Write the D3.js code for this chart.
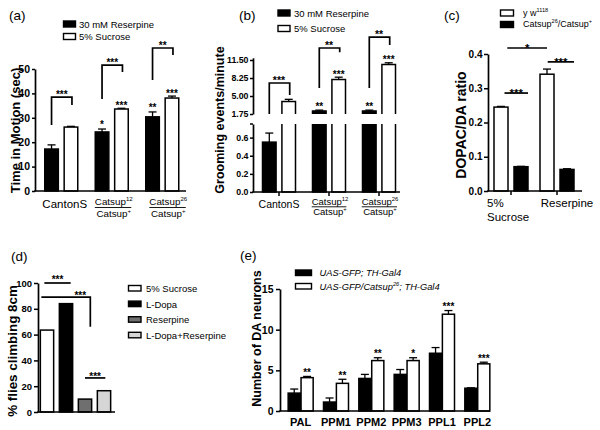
<!DOCTYPE html>
<html><head><meta charset="utf-8">
<script src="https://cdn.jsdelivr.net/npm/d3@7/dist/d3.min.js"></script>
<style>
body{margin:0;background:#fff;}
svg{font-family:"Liberation Sans",Arial,sans-serif;display:block;}
</style></head><body>
<svg id="chart" width="600" height="430"></svg>
<script>
// ---------------- data ----------------
// (a) Time in motion
const aGroups = ["CantonS", "Catsup12", "Catsup26"];
const aReserpine = [17.2, 24.2, 30.4];
const aReserpineErr = [1.7, 1.2, 2.0];
const aSucrose = [26.2, 33.6, 38.1];
const aSucroseErr = [0.3, 0.3, 0.8];
const aTicks = [0, 10, 20, 30, 40, 50];
const aBarStars = [["", ""], ["*", "***"], ["**", "***"]];
const aBracketStars = ["***", "***", "**"];
const aBracketTop = [38.5, 51.6, 58.6];
const aBracketLeft = [27, 37.7, 45.5];
const aBracketRight = [35.2, 48.8, 55.7];

// (b) Grooming events
const bGroups = ["CantonS", "Catsup12", "Catsup26"];
const bReserpine = [0.55, 2.3, 2.3];
const bReserpineErr = [0.1, 0.15, 0.15];
const bSucrose = [4.0, 8.0, 10.7];
const bSucroseErr = [0.4, 0.4, 0.3];
const bUpperTicks = [1.75, 5.00, 8.25, 11.50];
const bLowerTicks = [0, 0.2, 0.4, 0.6];
const bBarStars = [["", ""], ["**", "***"], ["**", "***"]];
const bBracketStars = ["***", "**", "**"];
const bBracketTop = [7.35, 13.67, 15.65];
const bBracketLeft = [1.75, 6.44, 6.44];
const bBracketRight = [5.18, 12.9, 14.2];

// (c) DOPAC/DA ratio
const cGroups = ["5% Sucrose", "Reserpine"];
const cYw = [0.245, 0.341];
const cYwErr = [0.002, 0.015];
const cCatsup = [0.071, 0.063];
const cCatsupErr = [0.001, 0.002];
const cTicks = [0, 0.1, 0.2, 0.3, 0.4];
const cSigLevels = [0.286, 0.4175, 0.377];
const cSigStars = ["***", "*", "***"];

// (d) climbing
const dGroups = ["5% Sucrose", "L-Dopa", "Reserpine", "L-Dopa+Reserpine"];
const dValues = [63.5, 84, 10, 16.5];
const dTicks = [0, 20, 40, 60, 80, 100];
const dSigLevels = [100, 89.1, 26.4];
const dSigLegEnd = 66;
const dSigStars = ["***", "***", "***"];

// (e) DA neurons
const eGroups = ["PAL", "PPM1", "PPM2", "PPM3", "PPL1", "PPL2"];
const eControl = [2.2, 1.1, 4.0, 4.5, 7.1, 2.8];
const eControlErr = [0.5, 0.5, 0.5, 0.6, 0.7, 0.05];
const eCatsup = [4.1, 3.4, 6.2, 6.2, 11.9, 5.8];
const eCatsupErr = [0.15, 0.5, 0.35, 0.35, 0.45, 0.2];
const eStars = ["**", "**", "**", "*", "***", "***"];
const eTicks = [0, 5, 10, 15];

// ---------------- helpers ----------------
const svg = d3.select("#chart");
const SW = 1.5;
const dFill = ["#ffffff", "#000000", "#6f6f6f", "#d6d6d6"];

function yAxis(g, scale, x, ticks, fmt, size, tick, pad) {
  const ax = g.append("g").attr("transform", `translate(${x},0)`)
    .call(d3.axisLeft(scale).tickValues(ticks).tickFormat(fmt).tickSize(tick).tickSizeOuter(0));
  ax.select(".domain").attr("stroke-width", 1.7);
  ax.selectAll(".tick line").attr("stroke-width", 1.5);
  ax.selectAll(".tick text").attr("font-size", size).attr("font-weight", "bold")
    .attr("font-family", '"Liberation Sans", Arial, sans-serif').attr("x", -pad).attr("fill", "#000");
  return ax;
}
function hLine(g, x1, x2, y, w) {
  g.append("line").attr("x1", x1).attr("x2", x2).attr("y1", y).attr("y2", y)
    .attr("stroke", "#000").attr("stroke-width", w || 1.7);
}
function bar(g, x, w, yTop, yBot, fill) {
  g.append("rect").attr("x", x).attr("y", yTop).attr("width", w).attr("height", Math.max(0, yBot - yTop))
    .attr("fill", fill).attr("stroke", "#000").attr("stroke-width", SW);
}
function err(g, cx, yVal, yTop, cap) {
  g.append("line").attr("x1", cx).attr("x2", cx).attr("y1", yVal).attr("y2", yTop)
    .attr("stroke", "#000").attr("stroke-width", 1.3);
  g.append("line").attr("x1", cx - cap / 2).attr("x2", cx + cap / 2).attr("y1", yTop).attr("y2", yTop)
    .attr("stroke", "#000").attr("stroke-width", 1.3);
}
function stars(g, x, yc, txt, size) {
  if (!txt) return;
  g.append("text").attr("x", x).attr("y", yc + 0.6 * size).attr("text-anchor", "middle")
    .attr("font-size", size).attr("font-weight", "bold").text(txt);
}
function bracket(g, x1, yl, x2, yr, yt) {
  g.append("path").attr("d", `M${x1},${yl}V${yt}H${x2}V${yr}`)
    .attr("fill", "none").attr("stroke", "#000").attr("stroke-width", 1.7);
}
function yLabel(g, x, y, txt, size) {
  g.append("text").attr("transform", `translate(${x},${y}) rotate(-90)`)
    .attr("text-anchor", "middle").attr("font-size", size).attr("font-weight", "bold").text(txt);
}
function panelTag(g, x, y, txt) {
  g.append("text").attr("x", x).attr("y", y).attr("font-size", 13.5).text(txt);
}
function legendBox(g, x, y, w, h, fill) {
  g.append("rect").attr("x", x).attr("y", y).attr("width", w).attr("height", h)
    .attr("fill", fill).attr("stroke", "#000").attr("stroke-width", 1.4);
}
function supText(g, x, y, base, sup, size, anchor, rest) {
  const t = g.append("text").attr("x", x).attr("y", y).attr("font-size", size)
    .attr("text-anchor", anchor || "middle");
  t.append("tspan").text(base);
  t.append("tspan").attr("dy", -size * 0.4).attr("font-size", size * 0.62).text(sup);
  if (rest) t.append("tspan").attr("dy", size * 0.4).text(rest);
  return t;
}
function fractionLabel(g, cx, y1, y2, lineY, sup, size) {
  const t1 = supText(g, cx, y1, "Catsup", sup, size);
  const t2 = supText(g, cx, y2, "Catsup", "+", size);
  const b1 = t1.node().getBBox(), b2 = t2.node().getBBox();
  const x0 = Math.min(b1.x, b2.x), x1 = Math.max(b1.x + b1.width, b2.x + b2.width) - 2;
  hLine(g, x0, x1, lineY, 0.9);
}

// ---------------- panel (a) ----------------
{
  const g = svg.append("g");
  const x = d3.scaleBand().domain(aGroups).range([36, 187.5]);
  const sub = d3.scaleBand().domain(["res", "suc"]).range([-16.5, 16.5]).paddingInner(0.3);
  const y = d3.scaleLinear().domain([0, 50]).range([191, 69]);
  const bw = sub.bandwidth();
  aGroups.forEach((k, i) => {
    const c = x(k) + x.bandwidth() / 2;
    const xr = c + sub("res"), xs = c + sub("suc");
    err(g, xr + bw / 2, y(aReserpine[i]), y(aReserpine[i] + aReserpineErr[i]), 8);
    bar(g, xr, bw, y(aReserpine[i]), y(0), "#000");
    err(g, xs + bw / 2, y(aSucrose[i]), y(aSucrose[i] + aSucroseErr[i]), 8);
    bar(g, xs, bw, y(aSucrose[i]), y(0), "#fff");
    stars(g, xr + bw / 2, y(aReserpine[i] + aReserpineErr[i]) - 7, aBarStars[i][0], 10);
    stars(g, xs + bw / 2, y(aSucrose[i] + aSucroseErr[i]) - 5, aBarStars[i][1], 10);
    bracket(g, xr + bw / 2, y(aBracketLeft[i]), xs + bw / 2 + 1, y(aBracketRight[i]), y(aBracketTop[i]));
    stars(g, (xr + xs + bw) / 2 + 0.5, y(aBracketTop[i]) - 5.5, aBracketStars[i], 10);
  });
  yAxis(g, y, 35, aTicks, d3.format("d"), 10.5, 3, 5);
  hLine(g, 34.2, 186, y(0));
  // x labels
  g.append("text").attr("x", x("CantonS") + x.bandwidth() / 2 + 3.5).attr("y", 207.5)
    .attr("text-anchor", "middle").attr("font-size", 11.5).text("CantonS");
  fractionLabel(g, x("Catsup12") + x.bandwidth() / 2 + 2, 205, 217, 207.5, "12", 9.8);
  fractionLabel(g, x("Catsup26") + x.bandwidth() / 2 + 6, 205, 217, 207.5, "26", 9.8);
  yLabel(g, 20, 130.5, "Time in Motion (sec)", 13);
  panelTag(g, 9, 20, "(a)");
  // legend
  legendBox(g, 63.5, 21, 12, 6, "#000");
  g.append("text").attr("x", 79).attr("y", 27.5).attr("font-size", 9.5).text("30 mM Reserpine");
  legendBox(g, 63.5, 33.5, 12, 6, "#fff");
  g.append("text").attr("x", 79).attr("y", 40).attr("font-size", 9.5).text("5% Sucrose");
}

// ---------------- panel (b) ----------------
{
  const g = svg.append("g");
  const x = d3.scaleBand().domain(bGroups).range([254, 404]);
  const sub = d3.scaleBand().domain(["res", "suc"]).range([-16.5, 16.5]).paddingInner(0.3);
  const yUp = d3.scaleLinear().domain([1.75, 11.9]).range([114, 57.8]);
  const yLow = d3.scaleLinear().domain([0, 0.75]).range([192, 124]);
  const yOf = v => v >= 1.75 ? yUp(v) : yLow(Math.min(v, 0.75));
  const bw = sub.bandwidth();
  const splitBar = (x0, v, fill) => {
    if (v > 0.75) {
      g.append("path").attr("d", `M${x0},124V192H${x0 + bw}V124`).attr("fill", fill)
        .attr("stroke", "#000").attr("stroke-width", SW);
      if (v > 1.75) g.append("path").attr("d", `M${x0},114V${yUp(v)}H${x0 + bw}V114`)
        .attr("fill", fill).attr("stroke", "#000").attr("stroke-width", SW);
    } else {
      bar(g, x0, bw, yLow(v), 192, fill);
    }
  };
  bGroups.forEach((k, i) => {
    const c = x(k) + x.bandwidth() / 2;
    const xr = c + sub("res"), xs = c + sub("suc");
    err(g, xr + bw / 2, yOf(bReserpine[i]), yOf(bReserpine[i] + bReserpineErr[i]), 8);
    splitBar(xr, bReserpine[i], "#000");
    err(g, xs + bw / 2, yOf(bSucrose[i]), yOf(bSucrose[i] + bSucroseErr[i]), 8);
    splitBar(xs, bSucrose[i], "#fff");
    stars(g, xr + bw / 2, yOf(bReserpine[i] + bReserpineErr[i]) - 6, bBarStars[i][0], 10);
    stars(g, xs + bw / 2, yOf(bSucrose[i] + bSucroseErr[i]) - 5.5, bBarStars[i][1], 10);
    bracket(g, xr + bw / 2, yUp(bBracketLeft[i]), xs + bw / 2 + 1, yUp(bBracketRight[i]), yUp(bBracketTop[i]));
    stars(g, (xr + xs + bw) / 2, yUp(bBracketTop[i]) - 5, bBracketStars[i], 10.5);
  });
  yAxis(g, yUp, 253, bUpperTicks, d3.format(".2f"), 8.8, 3, 4.5);
  yAxis(g, yLow, 253, bLowerTicks, d3.format(".1f"), 8.8, 3, 4.5);
  hLine(g, 250, 253, 124, 1.5);
  hLine(g, 252.2, 400, 192);
  bGroups.forEach(k => {
    const c = x(k) + x.bandwidth() / 2;
    g.append("line").attr("x1", c).attr("x2", c).attr("y1", 192).attr("y2", 196)
      .attr("stroke", "#000").attr("stroke-width", 1.5);
  });
  g.append("text").attr("x", x("CantonS") + x.bandwidth() / 2).attr("y", 207.5)
    .attr("text-anchor", "middle").attr("font-size", 10.5).text("CantonS");
  fractionLabel(g, x("Catsup12") + x.bandwidth() / 2 + 1, 205, 214.5, 206.8, "12", 9.5);
  fractionLabel(g, x("Catsup26") + x.bandwidth() / 2 + 1, 205, 214.5, 206.8, "26", 9.5);
  yLabel(g, 224, 120, "Grooming events/minute", 12.5);
  panelTag(g, 239, 20, "(b)");
  legendBox(g, 278, 10, 12, 6, "#000");
  g.append("text").attr("x", 294).attr("y", 16.5).attr("font-size", 9.5).text("30 mM Reserpine");
  legendBox(g, 278, 25.5, 12, 6, "#fff");
  g.append("text").attr("x", 294).attr("y", 32).attr("font-size", 9.5).text("5% Sucrose");
}

// ---------------- panel (c) ----------------
{
  const g = svg.append("g");
  const x = d3.scaleBand().domain(cGroups).range([488, 580]);
  const sub = d3.scaleBand().domain(["yw", "cat"]).range([-17, 17]).paddingInner(0.3);
  const y = d3.scaleLinear().domain([0, 0.4]).range([191, 54]);
  const bw = sub.bandwidth();
  const xw = k => x(k) + x.bandwidth() / 2 + sub("yw");
  const xc = k => x(k) + x.bandwidth() / 2 + sub("cat");
  cGroups.forEach((k, i) => {
    err(g, xw(k) + bw / 2, y(cYw[i]), y(cYw[i] + cYwErr[i]), 8);
    bar(g, xw(k), bw, y(cYw[i]), y(0), "#fff");
    err(g, xc(k) + bw / 2, y(cCatsup[i]), y(cCatsup[i] + cCatsupErr[i]), 8);
    bar(g, xc(k), bw, y(cCatsup[i]), y(0), "#000");
  });
  const s1 = [xw(cGroups[0]) + bw * 0.75, xc(cGroups[0]) + bw];
  const s2 = [xw(cGroups[0]) + bw * 0.95, xw(cGroups[1]) + bw * 0.5];
  const s3 = [xw(cGroups[1]) + bw * 0.55, xc(cGroups[1]) + bw];
  [s1, s2, s3].forEach((s, i) => {
    hLine(g, s[0], s[1], y(cSigLevels[i]), 1.7);
    stars(g, (s[0] + s[1]) / 2, y(cSigLevels[i]) - 3, cSigStars[i], 11.5);
  });
  yAxis(g, y, 488, cTicks, d3.format(".1f"), 10, 4, 5.5);
  hLine(g, 487.2, 582, y(0));
  cGroups.forEach(k => {
    const c = x(k) + x.bandwidth() / 2;
    g.append("line").attr("x1", c).attr("x2", c).attr("y1", 191).attr("y2", 195)
      .attr("stroke", "#000").attr("stroke-width", 1.5);
  });
  const c0 = x(cGroups[0]) + x.bandwidth() / 2, c1 = x(cGroups[1]) + x.bandwidth() / 2;
  g.append("text").attr("x", c0 - 24).attr("y", 207).attr("font-size", 11.5).text("5%");
  g.append("text").attr("x", c0 - 24).attr("y", 220.5).attr("font-size", 11.5).text("Sucrose");
  g.append("text").attr("x", c1 + 10).attr("y", 207).attr("text-anchor", "middle")
    .attr("font-size", 11.5).text("Reserpine");
  yLabel(g, 466, 125, "DOPAC/DA ratio", 14);
  panelTag(g, 444, 20, "(c)");
  legendBox(g, 500.5, 10, 13, 6, "#fff");
  supText(g, 523, 15.5, "y w", "1118", 9, "start");
  legendBox(g, 500.5, 21.5, 13, 6, "#000");
  supText(g, 523, 27, "Catsup", "26", 9, "start", "/Catsup")
    .append("tspan").attr("dy", -9 * 0.4).attr("font-size", 9 * 0.62).text("+");
}

// ---------------- panel (d) ----------------
{
  const g = svg.append("g");
  const x = d3.scaleBand().domain(dGroups).range([37.5, 113.5]).paddingInner(0.3).paddingOuter(0.15);
  const y = d3.scaleLinear().domain([0, 100]).range([412, 283]);
  const bw = x.bandwidth();
  dGroups.forEach((k, i) => bar(g, x(k), bw, y(dValues[i]), y(0), dFill[i]));
  const l1 = [x(dGroups[0]) + 4, x(dGroups[1]) + bw * 0.85];
  hLine(g, l1[0], l1[1], y(dSigLevels[0]), 1.7);
  stars(g, (l1[0] + l1[1]) / 2, y(dSigLevels[0]) - 6, dSigStars[0], 10);
  const l2 = [x(dGroups[0]) + 1, x(dGroups[2]) + bw * 0.9];
  bracket(g, l2[0], y(dSigLevels[1]), l2[1], y(dSigLegEnd), y(dSigLevels[1]));
  stars(g, l2[1] - 10, y(dSigLevels[1]) - 4, dSigStars[1], 10);
  const l3 = [x(dGroups[2]) + bw * 0.5, x(dGroups[3]) + bw * 0.6];
  hLine(g, l3[0], l3[1], y(dSigLevels[2]), 1.7);
  stars(g, (l3[0] + l3[1]) / 2, y(dSigLevels[2]) - 4, dSigStars[2], 10);
  yAxis(g, y, 38, dTicks, d3.format("d"), 9.5, 4, 6);
  hLine(g, 37.2, 115, y(0));
  yLabel(g, 17, 351, "% flies climbing 8cm", 13.4);
  panelTag(g, 11, 261, "(d)");
  dGroups.forEach((k, i) => {
    const yy = 285.5 + i * 15.6;
    legendBox(g, 128.5, yy, 12.5, 5.5, dFill[i]);
    g.append("text").attr("x", 146).attr("y", yy + 6.5).attr("font-size", 9.5).text(k);
  });
}

// ---------------- panel (e) ----------------
{
  const g = svg.append("g");
  const x = d3.scaleBand().domain(eGroups).range([283, 495]);
  const sub = d3.scaleBand().domain(["ctl", "cat"]).range([-12.5, 12.5]).paddingInner(0.06);
  const y = d3.scaleLinear().domain([0, 15]).range([411, 289]);
  const bw = sub.bandwidth();
  eGroups.forEach((k, i) => {
    const c = x(k) + x.bandwidth() / 2;
    const xa = c + sub("ctl"), xb = c + sub("cat");
    err(g, xa + bw / 2, y(eControl[i]), y(eControl[i] + eControlErr[i]), 8);
    bar(g, xa, bw, y(eControl[i]), y(0), "#000");
    err(g, xb + bw / 2, y(eCatsup[i]), y(eCatsup[i] + eCatsupErr[i]), 8);
    bar(g, xb, bw, y(eCatsup[i]), y(0), "#fff");
    stars(g, xb + bw / 2, y(eCatsup[i] + eCatsupErr[i]) - 6.5, eStars[i], 10);
    g.append("text").attr("x", c).attr("y", 425.5).attr("text-anchor", "middle")
      .attr("font-size", 11).attr("font-weight", "bold")
      .attr("font-family", '"Liberation Sans Narrow", "Liberation Sans", Arial, sans-serif').text(k);
  });
  yAxis(g, y, 280, eTicks, d3.format("d"), 10.5, 4, 6.5);
  hLine(g, 279.2, 490, y(0));
  yLabel(g, 261, 338.5, "Number of DA neurons", 12.5);
  panelTag(g, 240, 260, "(e)");
  legendBox(g, 295.5, 270, 16, 5.5, "#000");
  g.append("text").attr("x", 319.5).attr("y", 276).attr("font-size", 9.3).attr("font-style", "italic")
    .text("UAS-GFP; TH-Gal4");
  legendBox(g, 295.5, 283.5, 16, 5.5, "#fff");
  supText(g, 319.5, 290, "UAS-GFP/Catsup", "26", 9.3, "start", "; TH-Gal4").attr("font-style", "italic");
}
</script>
</body></html>
